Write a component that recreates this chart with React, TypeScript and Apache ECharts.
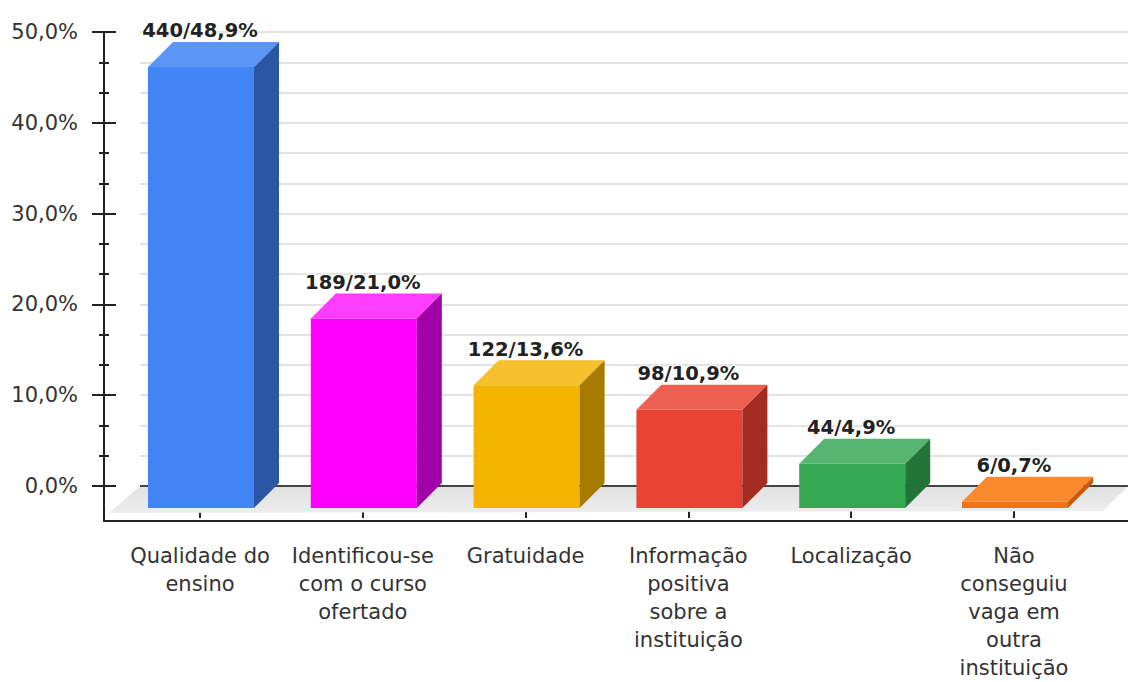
import React, { useEffect, useRef } from "react";
import * as echarts from "echarts";

const categories = [
  "Qualidade do\nensino",
  "Identificou-se\ncom o curso\nofertado",
  "Gratuidade",
  "Informação\npositiva\nsobre a\ninstituição",
  "Localização",
  "Não\nconseguiu\nvaga em\noutra\ninstituição",
];
const counts = [440, 189, 122, 98, 44, 6];
const percents = [48.9, 21.0, 13.6, 10.9, 4.9, 0.7];

const frontColors = ["#4285f4", "#ff00ff", "#f4b400", "#ea4335", "#34a853", "#f57212"];
const topColors = ["#5b95f5", "#ff3cff", "#f6c02c", "#ee6052", "#55b571", "#fb8a2e"];
const sideColors = ["#2b56a6", "#a000a6", "#a77b00", "#a32c22", "#237437", "#c85a08"];

const FONT = "DejaVu Sans";
const fmtPct = (v: number) => v.toFixed(1).replace(".", ",") + "%";

export default function App() {
  const ref = useRef<HTMLDivElement>(null);
  useEffect(() => {
    document.body.style.margin = "0";
    const chart = echarts.init(ref.current!, null, { renderer: "svg" });
    const D = 25;
    const HALF = 53;
    const tickStyle = { color: "#222", width: 2 };
    const option: any = {
      animation: false,
      backgroundColor: "#ffffff",
      grid: [
        { left: 118.6, width: 976.8, top: 32, height: 454 },
        { left: 140, right: 0, top: 32, height: 454 },
        { left: 104, right: 0, top: 32, height: 489 },
        { left: 104, right: 0, top: 32, height: 454 },
      ],
      xAxis: [
        {
          type: "category",
          gridIndex: 0,
          position: "bottom",
          data: categories,
          offset: 35,
          axisLine: { show: false },
          axisTick: { show: true, alignWithLabel: true, length: 12, lineStyle: tickStyle },
          axisLabel: {
            interval: 0,
            margin: 24,
            color: "#333",
            fontFamily: FONT,
            fontSize: 21,
            lineHeight: 28,
            align: "center",
          },
          splitLine: { show: false },
        },
        { type: "value", gridIndex: 1, min: 0, max: 1, show: false },
        {
          type: "value",
          gridIndex: 2,
          position: "bottom",
          min: 0,
          max: 1,
          axisLine: { show: true, onZero: false, lineStyle: { color: "#222", width: 2 } },
          axisTick: { show: false },
          axisLabel: { show: false },
          splitLine: { show: false },
        },
        {
          type: "category",
          gridIndex: 0,
          position: "bottom",
          data: categories,
          offset: 35,
          axisLine: { show: false },
          axisTick: { show: true, inside: true, alignWithLabel: true, length: 11, lineStyle: tickStyle },
          axisLabel: { show: false },
          splitLine: { show: false },
        },
        { type: "value", gridIndex: 3, min: 0, max: 1, show: false },
      ],
      yAxis: [
        { type: "value", gridIndex: 0, min: 0, max: 50, show: false },
        {
          type: "value",
          gridIndex: 1,
          position: "left",
          min: 0,
          max: 50,
          interval: 10,
          axisLine: { show: false },
          axisTick: { show: false },
          axisLabel: { show: false },
          splitLine: { show: true, lineStyle: { color: "#dadada", width: 1.5 } },
          minorTick: { show: false, splitNumber: 3 },
          minorSplitLine: { show: true, lineStyle: { color: "#dadada", width: 1.5 } },
        },
        {
          type: "value",
          gridIndex: 3,
          position: "left",
          min: 0,
          max: 50,
          interval: 10,
          axisLine: { show: false },
          axisTick: { show: true, length: 12, lineStyle: tickStyle },
          minorTick: { show: true, splitNumber: 3, length: 5, lineStyle: tickStyle },
          axisLabel: {
            margin: 26,
            color: "#333",
            fontFamily: FONT,
            fontSize: 21,
            formatter: (v: number) => fmtPct(v),
          },
          splitLine: { show: false },
        },
        {
          type: "value",
          gridIndex: 3,
          position: "left",
          min: 0,
          max: 50,
          interval: 10,
          axisLine: { show: false },
          axisTick: { show: true, inside: true, length: 12, lineStyle: tickStyle },
          minorTick: { show: true, splitNumber: 3, length: 5, lineStyle: tickStyle },
          axisLabel: { show: false },
          splitLine: { show: false },
        },
        {
          type: "value",
          gridIndex: 2,
          position: "left",
          min: 0,
          max: 1,
          axisLine: { show: true, onZero: false, lineStyle: { color: "#222", width: 2 } },
          axisTick: { show: false },
          axisLabel: { show: false },
          splitLine: { show: false },
        },
      ],
      series: [
        {
          type: "custom",
          xAxisIndex: 1,
          yAxisIndex: 1,
          z: 1,
          silent: true,
          data: [[0, 0]],
          renderItem: (params: any, api: any) => {
            const cs = params.coordSys;
            const y0 = api.coord([0, 0])[1];
            const xl = cs.x;
            const xr = cs.x + cs.width;
            return {
              type: "group",
              children: [
                {
                  type: "polygon",
                  shape: {
                    points: [
                      [xl, y0],
                      [xr, y0],
                      [xr - D, y0 + D],
                      [xl - D - 6, y0 + D + 2],
                    ],
                  },
                  style: {
                    fill: new echarts.graphic.LinearGradient(0, 0, 0, 1, [
                      { offset: 0, color: "#e0e0e0" },
                      { offset: 1, color: "#eeeeee" },
                    ]),
                  },
                },
                {
                  type: "line",
                  shape: { x1: xl, y1: y0, x2: xr, y2: y0 },
                  style: { stroke: "#444", lineWidth: 2 },
                },
              ],
            };
          },
        },
        {
          type: "custom",
          xAxisIndex: 0,
          yAxisIndex: 0,
          z: 5,
          data: percents.map((p, i) => [i, p, counts[i]]),
          renderItem: (params: any, api: any) => {
            const i = params.dataIndex;
            const [cx, yb] = api.coord([api.value(0), api.value(1)]);
            const y0b = api.coord([api.value(0), 0])[1];
            const L = cx + 1 - HALF;
            const R = cx + 1 + HALF;
            const label = api.value(2) + "/" + fmtPct(api.value(1));
            return {
              type: "group",
              children: [
                {
                  type: "rect",
                  shape: { x: L, y: yb + D, width: R - L, height: y0b - yb },
                  style: { fill: frontColors[i] },
                },
                {
                  type: "polygon",
                  shape: {
                    points: [
                      [L, yb + D],
                      [R, yb + D],
                      [R + D, yb],
                      [L + D, yb],
                    ],
                  },
                  style: { fill: topColors[i] },
                },
                {
                  type: "polygon",
                  shape: {
                    points: [
                      [R, yb + D],
                      [R + D, yb],
                      [R + D, y0b],
                      [R, y0b + D],
                    ],
                  },
                  style: { fill: sideColors[i] },
                },
                {
                  type: "text",
                  x: cx,
                  y: yb - 1,
                  style: {
                    text: label,
                    fill: "#222",
                    fontFamily: FONT,
                    fontWeight: "bold",
                    fontSize: 19.5,
                    align: "center",
                    verticalAlign: "bottom",
                    stroke: "#ffffff",
                    lineWidth: 2,
                  },
                },
              ],
            };
          },
        },
      ],
    };
    chart.setOption(option);
    return () => chart.dispose();
  }, []);
  return <div ref={ref} style={{ width: 1128, height: 682 }} />;
}
